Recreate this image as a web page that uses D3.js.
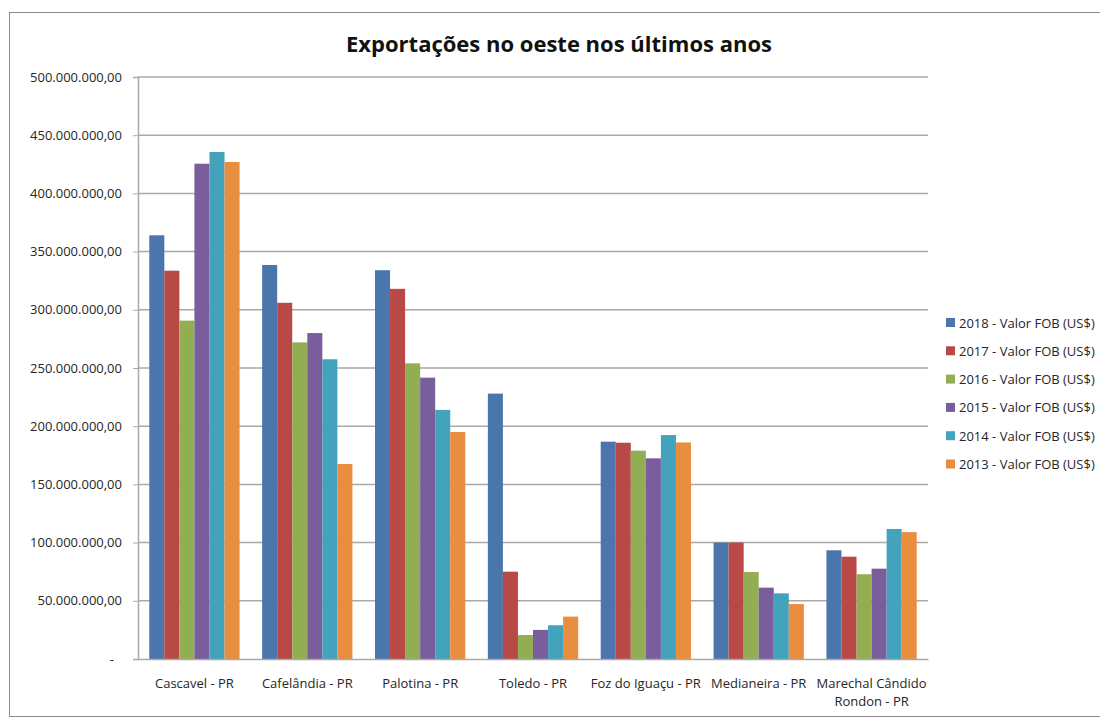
<!DOCTYPE html>
<html>
<head>
<meta charset="utf-8">
<script src="https://cdn.jsdelivr.net/npm/d3@7"></script>
<style>
  body { margin: 0; background: #fff; }
  svg text { font-family: "Open Sans", "Liberation Sans", sans-serif; }
</style>
</head>
<body>
<svg width="1100" height="719"></svg>
<script>
// cities on the x axis
const cities = ["Cascavel - PR", "Cafelândia - PR", "Palotina - PR", "Toledo - PR",
                "Foz do Iguaçu - PR", "Medianeira - PR", "Marechal Cândido Rondon - PR"];

// series names (legend order)
const series = ["2018 - Valor FOB (US$)", "2017 - Valor FOB (US$)", "2016 - Valor FOB (US$)",
                "2015 - Valor FOB (US$)", "2014 - Valor FOB (US$)", "2013 - Valor FOB (US$)"];

// values per year, in millions of US$, same order as cities
const v2018 = [364, 338.5, 334, 228, 186.7, 100, 93.4];
const v2017 = [333.6, 306, 318, 75, 185.8, 100, 87.9];
const v2016 = [290.7, 272, 254, 20.6, 179, 74.7, 72.8];
const v2015 = [425.5, 280, 241.7, 25, 172.4, 61.3, 77.6];
const v2014 = [435.6, 257.5, 214, 29, 192.4, 56.4, 111.7];
const v2013 = [427, 167.5, 195, 36.4, 186, 47.2, 109];

const colors = ["#4a76ab", "#b84946", "#92ae52", "#7a5d9c", "#43a3bc", "#e98d3e"];

const yTicks = [0, 50, 100, 150, 200, 250, 300, 350, 400, 450, 500];

const allValues = [v2018, v2017, v2016, v2015, v2014, v2013];

const svg = d3.select("svg");

// outer frame
svg.append("rect")
    .attr("x", 9.5).attr("y", 12.5)
    .attr("width", 1100).attr("height", 704)
    .attr("fill", "none")
    .attr("stroke", "#8c8c8c");

const margin = { left: 138, top: 77, right: 928, bottom: 659 };

const x = d3.scaleBand()
    .domain(cities)
    .range([margin.left, margin.right])
    .paddingInner(0.2)
    .paddingOuter(0.1);

const xs = d3.scaleBand()
    .domain(series)
    .range([0, x.bandwidth()]);

const y = d3.scaleLinear()
    .domain([0, 500])
    .range([margin.bottom, margin.top]);

// gridlines
svg.append("g")
    .selectAll("line")
    .data(yTicks.filter(d => d > 0))
  .enter()
  .append("line")
    .attr("x1", margin.left)
    .attr("x2", margin.right)
    .attr("y1", d => y(d))
    .attr("y2", d => y(d))
    .attr("stroke", "#a9a9a9")
    .attr("stroke-width", 1.5);

// y axis
const fmt = d => d === 0 ? "-" : d3.format(",")(d * 1e6).replace(/,/g, ".") + ",00";
const yAxis = svg.append("g")
    .attr("transform", `translate(${margin.left},0)`)
    .call(d3.axisLeft(y).tickValues(yTicks).tickFormat(fmt).tickSize(5).tickPadding(11));
yAxis.select(".domain").attr("stroke", "#a9a9a9").attr("stroke-width", 1.5);
yAxis.selectAll(".tick line").attr("stroke", "#a9a9a9");
yAxis.selectAll("text")
    .attr("fill", "#262626")
    .style("font-size", "13px")
    .attr("dx", d => d === 0 ? -8 : 0);

// bars
cities.forEach((c, i) => {
    const g = svg.append("g").attr("transform", `translate(${x(c)},0)`);
    g.selectAll("rect")
        .data(series.map((s, j) => ({ s: s, v: allValues[j][i], c: colors[j] })))
      .enter()
      .append("rect")
        .attr("x", d => xs(d.s))
        .attr("y", d => y(d.v))
        .attr("width", xs.bandwidth())
        .attr("height", d => y(0) - y(d.v))
        .attr("fill", d => d.c);
});

// x axis
const xAxis = svg.append("g")
    .attr("transform", `translate(0,${margin.bottom})`)
    .call(d3.axisBottom(x).tickSize(0).tickPadding(20));
xAxis.select(".domain").attr("stroke", "#a9a9a9").attr("stroke-width", 1.5);
xAxis.selectAll("text")
    .attr("fill", "#262626")
    .style("font-size", "13px")
    .text(null)
    .each(function(d) {
        const t = d3.select(this);
        const lines = d === "Marechal Cândido Rondon - PR" ? ["Marechal Cândido", "Rondon - PR"] : [d];
        lines.forEach((l, k) => {
            t.append("tspan").attr("x", 0).attr("dy", k === 0 ? "0.71em" : "1.4em").text(l);
        });
    });

// title
svg.append("text")
    .attr("x", 559)
    .attr("y", 52)
    .attr("text-anchor", "middle")
    .attr("fill", "#111")
    .style("font-size", "22px")
    .style("font-weight", "bold")
    .text("Exportações no oeste nos últimos anos");

// legend
const legend = svg.append("g").attr("transform", "translate(946,323)");
series.forEach((s, j) => {
    const row = legend.append("g").attr("transform", `translate(0,${j * 28.3})`);
    row.append("rect")
        .attr("x", 0).attr("y", -5)
        .attr("width", 9).attr("height", 9)
        .attr("fill", colors[j]);
    row.append("text")
        .attr("x", 13)
        .attr("y", 0)
        .attr("dy", "0.35em")
        .attr("fill", "#262626")
        .style("font-size", "13px")
        .text(s);
});
</script>
</body>
</html>
